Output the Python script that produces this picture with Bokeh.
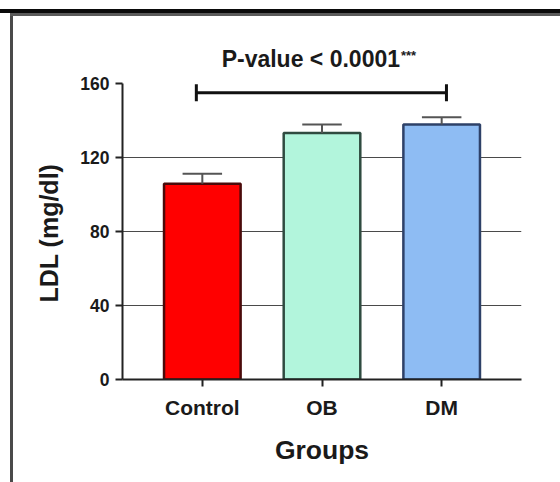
from bokeh.plotting import figure
from bokeh.models import ColumnDataSource, FixedTicker, Range1d, Title
from bokeh.core.properties import value
from bokeh.embed import file_html
from bokeh.resources import INLINE

# LDL by group (mean and SEM, mg/dl)
groups = ["Control", "OB", "DM"]
ldl_mean = [105.8, 133.3, 137.8]
ldl_sem = [5.4, 4.5, 4.0]
bar_fill = ["#ff0000", "#b2f5dc", "#8ebcf3"]
bar_line = ["#4a0a0a", "#2f4b40", "#2e4168"]
y_ticks = [0, 40, 80, 120, 160]
grid_ticks = [40, 80, 120]
p_label = "P-value < 0.0001"
p_stars = "***"
bracket_y = 155

FONT = "Liberation Sans"
INK = "#1a1a1a"

xpos = [i + 1 for i in range(len(groups))]
upper = [m + s for m, s in zip(ldl_mean, ldl_sem)]
cap_half = 0.165
bar_w = 0.64

src = ColumnDataSource(dict(
    x=xpos, top=ldl_mean, upper=upper,
    cap_l=[x - cap_half for x in xpos], cap_r=[x + cap_half for x in xpos],
    fill=bar_fill, line=bar_line,
))

# page frame drawn as CSS background behind a transparent border area:
# a heavy rule across the top and a boxed border down the left side
frame_css = (
    "linear-gradient(#0a0a0a,#0a0a0a) 0 9px / 100% 4px no-repeat, "
    "linear-gradient(#5a5a5a,#5a5a5a) 10px 13px / 100% 3px no-repeat, "
    "linear-gradient(#4a4a4a,#4a4a4a) 10px 13px / 3px 100% no-repeat, "
    "#ffffff"
)

p = figure(width=560, height=482, output_backend="svg", toolbar_location=None,
           x_range=Range1d(xpos[0] - 0.667, xpos[-1] + 0.667),
           y_range=Range1d(0, 188.65),
           min_border_left=122, min_border_right=39,
           min_border_top=30, min_border_bottom=103,
           styles={"background": frame_css})
p.outline_line_color = None
p.background_fill_color = "white"
p.border_fill_color = None

# grid lines behind the bars
p.xgrid.visible = False
p.ygrid.ticker = FixedTicker(ticks=grid_ticks)
p.ygrid.grid_line_color = "#4a4a4a"
p.ygrid.grid_line_width = 1

# bars with upper-only error bars
p.vbar(x="x", top="top", bottom=0, width=bar_w, source=src,
       fill_color="fill", line_color="line", line_width=2.5)
p.segment(x0="x", y0="top", x1="x", y1="upper", source=src,
          line_color="#555555", line_width=2)
p.segment(x0="cap_l", y0="upper", x1="cap_r", y1="upper", source=src,
          line_color="#555555", line_width=2)

# significance bracket spanning all groups
bx0, bx1 = xpos[0] - 0.05, xpos[-1] + 0.04
p.segment(x0=[bx0], y0=[bracket_y], x1=[bx1], y1=[bracket_y],
          line_color="#111111", line_width=3)
p.segment(x0=[bx0, bx1], y0=[bracket_y - 4.6] * 2, x1=[bx0, bx1],
          y1=[bracket_y + 4.6] * 2, line_color="#111111", line_width=3)

mid = xpos[len(xpos) // 2]
p.text(x=[mid], y=[173.5], text=[p_label], text_font=value(FONT),
       text_font_style="bold", text_font_size="23px", text_color=INK,
       text_align="right", text_baseline="alphabetic", x_offset=78)
p.text(x=[mid], y=[173.5], text=[p_stars], text_font=value(FONT),
       text_font_style="bold", text_font_size="13px", text_color=INK,
       text_align="left", text_baseline="alphabetic", x_offset=79, y_offset=-3)

# axes
xa = p.xaxis[0]
xa.ticker = FixedTicker(ticks=xpos)
xa.major_label_overrides = {x: g for x, g in zip(xpos, groups)}
xa.axis_label = "Groups"
ya = p.yaxis[0]
ya.ticker = FixedTicker(ticks=y_ticks)
ya.bounds = (y_ticks[0], y_ticks[-1])

for ax in (xa, ya):
    ax.axis_line_color = "#222222"
    ax.axis_line_width = 2
    ax.major_tick_line_color = "#222222"
    ax.major_tick_line_width = 2
    ax.major_tick_out = 7
    ax.major_tick_in = 0
    ax.minor_tick_line_color = None
    ax.major_label_text_font = FONT
    ax.major_label_text_font_style = "bold"
    ax.major_label_text_color = INK
    ax.axis_label_text_font = FONT
    ax.axis_label_text_font_style = "bold"
    ax.axis_label_text_color = INK
    ax.axis_label_text_font_size = "26.5px"

xa.major_label_text_font_size = "21px"
xa.major_label_standoff = 9
xa.axis_label_standoff = 13
ya.major_label_text_font_size = "17.5px"
ya.major_label_standoff = 6

# y-axis title, placed along the bounded axis (0-160) rather than the frame
p.add_layout(Title(text="LDL (mg/dl)", align="left", offset=77,
                   standoff=30, text_font=FONT, text_font_style="bold",
                   text_font_size="25px", text_color=INK), "left")

open("out.html", "w").write(file_html(p, INLINE))
